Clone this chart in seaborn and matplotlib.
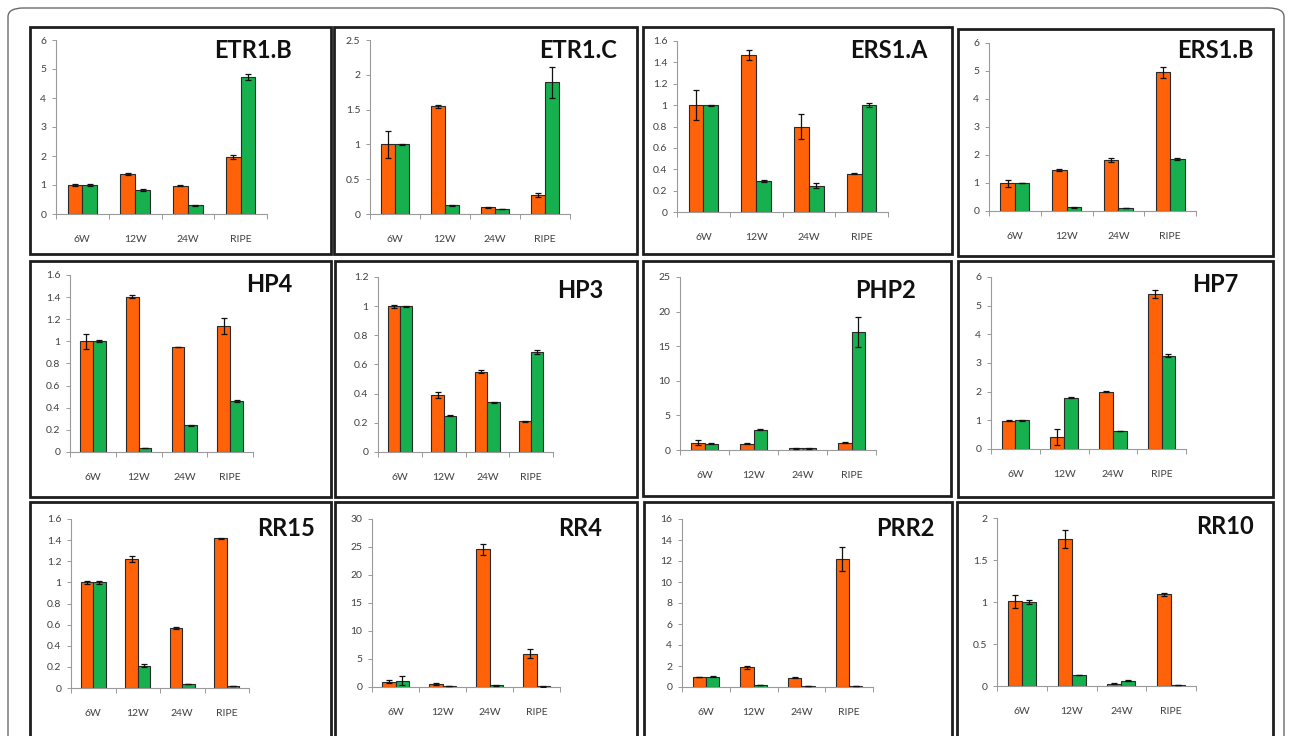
import matplotlib
matplotlib.use("Agg")
import matplotlib.pyplot as plt
from matplotlib.patches import Rectangle, FancyBboxPatch
from matplotlib.ticker import MultipleLocator, FuncFormatter, FixedLocator
import seaborn as sns
import pandas as pd

# ---------------- data ----------------
stages = ["6W", "12W", "24W", "RIPE"]
series_names = ["orange", "green"]

etr1b_orange = [1.00, 1.38, 0.97, 1.98]
etr1b_orange_err = [0.05, 0.02, 0.02, 0.07]
etr1b_green = [1.00, 0.82, 0.30, 4.72]
etr1b_green_err = [0.05, 0.03, 0.01, 0.10]

etr1c_orange = [1.00, 1.55, 0.096, 0.27]
etr1c_orange_err = [0.19, 0.02, 0.005, 0.03]
etr1c_green = [1.00, 0.125, 0.07, 1.89]
etr1c_green_err = [0.005, 0.005, 0.005, 0.22]

ers1a_orange = [1.00, 1.47, 0.80, 0.36]
ers1a_orange_err = [0.14, 0.05, 0.12, 0.005]
ers1a_green = [1.00, 0.29, 0.247, 1.00]
ers1a_green_err = [0.005, 0.01, 0.02, 0.02]

ers1b_orange = [0.99, 1.46, 1.82, 4.96]
ers1b_orange_err = [0.13, 0.04, 0.06, 0.20]
ers1b_green = [1.00, 0.13, 0.10, 1.85]
ers1b_green_err = [0.01, 0.01, 0.01, 0.03]

hp4_orange = [1.00, 1.405, 0.95, 1.14]
hp4_orange_err = [0.065, 0.015, 0.003, 0.07]
hp4_green = [1.00, 0.036, 0.24, 0.46]
hp4_green_err = [0.01, 0.003, 0.003, 0.01]

hp3_orange = [1.00, 0.39, 0.55, 0.21]
hp3_orange_err = [0.01, 0.02, 0.01, 0.003]
hp3_green = [1.00, 0.25, 0.34, 0.687]
hp3_green_err = [0.003, 0.003, 0.003, 0.015]

php2_orange = [1.06, 0.92, 0.24, 1.06]
php2_orange_err = [0.40, 0.05, 0.05, 0.10]
php2_green = [0.92, 2.94, 0.24, 17.04]
php2_green_err = [0.03, 0.03, 0.10, 2.20]

hp7_orange = [0.99, 0.43, 2.00, 5.41]
hp7_orange_err = [0.02, 0.28, 0.02, 0.15]
hp7_green = [1.00, 1.79, 0.63, 3.26]
hp7_green_err = [0.02, 0.01, 0.01, 0.06]

rr15_orange = [1.00, 1.22, 0.57, 1.416]
rr15_orange_err = [0.015, 0.025, 0.01, 0.003]
rr15_green = [1.00, 0.21, 0.04, 0.02]
rr15_green_err = [0.015, 0.015, 0.002, 0.002]

rr4_orange = [0.95, 0.55, 24.57, 5.96]
rr4_orange_err = [0.30, 0.20, 1.05, 0.75]
rr4_green = [1.13, 0.15, 0.30, 0.10]
rr4_green_err = [0.85, 0.02, 0.05, 0.02]

prr2_orange = [0.95, 1.87, 0.89, 12.22]
prr2_orange_err = [0.02, 0.15, 0.05, 1.15]
prr2_green = [0.98, 0.19, 0.08, 0.08]
prr2_green_err = [0.05, 0.02, 0.01, 0.01]

rr10_orange = [1.006, 1.75, 0.028, 1.09]
rr10_orange_err = [0.075, 0.11, 0.005, 0.015]
rr10_green = [1.00, 0.13, 0.064, 0.008]
rr10_green_err = [0.02, 0.003, 0.003, 0.002]

genes = ["ETR1.B", "ETR1.C", "ERS1.A", "ERS1.B",
         "HP4", "HP3", "PHP2", "HP7",
         "RR15", "RR4", "PRR2", "RR10"]
y_max = [6, 2.5, 1.6, 6, 1.6, 1.2, 25, 6, 1.6, 30, 16, 2]
y_step = [1, 0.5, 0.2, 1, 0.2, 0.2, 5, 1, 0.2, 5, 2, 0.5]

panel_values = [
    (etr1b_orange, etr1b_orange_err, etr1b_green, etr1b_green_err),
    (etr1c_orange, etr1c_orange_err, etr1c_green, etr1c_green_err),
    (ers1a_orange, ers1a_orange_err, ers1a_green, ers1a_green_err),
    (ers1b_orange, ers1b_orange_err, ers1b_green, ers1b_green_err),
    (hp4_orange, hp4_orange_err, hp4_green, hp4_green_err),
    (hp3_orange, hp3_orange_err, hp3_green, hp3_green_err),
    (php2_orange, php2_orange_err, php2_green, php2_green_err),
    (hp7_orange, hp7_orange_err, hp7_green, hp7_green_err),
    (rr15_orange, rr15_orange_err, rr15_green, rr15_green_err),
    (rr4_orange, rr4_orange_err, rr4_green, rr4_green_err),
    (prr2_orange, prr2_orange_err, prr2_green, prr2_green_err),
    (rr10_orange, rr10_orange_err, rr10_green, rr10_green_err),
]

# ---------------- layout (pixels, top-left origin) ----------------
W, H = 1290, 736
axes_px = [
    (56, 267, 40, 214), (370, 570, 40, 214), (677, 888, 41, 212), (989, 1196, 43, 211),
    (70, 253, 275, 452), (378, 553, 277, 452), (680, 876, 277, 450), (991, 1186, 277, 449),
    (71, 249, 519, 688), (372, 560, 519, 687), (682, 873, 519, 687), (997, 1196, 518, 686),
]
boxes_px = [
    (30, 27, 331, 254), (334, 27, 637, 254), (643, 27, 952, 254), (958, 29, 1273, 256),
    (30, 261, 331, 497), (335, 261, 637, 497), (643, 261, 951, 496), (958, 261, 1273, 497),
    (30, 502, 331, 745), (335, 502, 637, 745), (644, 502, 952, 745), (957, 502, 1273, 745),
]
title_px = [
    (292, 50), (617, 51), (927, 51), (1254, 51),
    (292, 285), (603, 290), (916, 290), (1238, 284),
    (315, 529), (602, 528), (935, 528), (1254, 527),
]

ORANGE = "#FF6208"
GREEN = "#16B04E"
EDGE = "#2a2a2a"
AXIS_C = "#9a9a9a"
TEXT_C = "#404040"

sns.set_style("white")
plt.rcParams["font.family"] = ["Lato", "DejaVu Sans"]

fig = plt.figure(figsize=(W / 100, H / 100), dpi=100)
fig.patch.set_facecolor("white")

# outer rounded frame
fig.patches.append(FancyBboxPatch((8 / W, 1 - 760 / H), (1284 - 8) / W, (760 - 8) / H,
                                  boxstyle="round,pad=0,rounding_size=0.012",
                                  transform=fig.transFigure, fill=False,
                                  edgecolor="#6a6a6a", linewidth=1.0, zorder=0))

for i, gene in enumerate(genes):
    bx0, by0, bx1, by1 = boxes_px[i]
    fig.patches.append(Rectangle((bx0 / W, 1 - by1 / H), (bx1 - bx0) / W, (by1 - by0) / H,
                                 transform=fig.transFigure, fill=False,
                                 edgecolor="#1e1e1e", linewidth=2.0, zorder=1))

    l, r, t, b = axes_px[i]
    ax = fig.add_axes([l / W, 1 - b / H, (r - l) / W, (b - t) / H])
    o, oe, g, ge = panel_values[i]
    df = pd.DataFrame({
        "stage": stages * 2,
        "series": [series_names[0]] * 4 + [series_names[1]] * 4,
        "value": list(o) + list(g),
    })
    sns.barplot(data=df, x="stage", y="value", hue="series", order=stages,
                hue_order=series_names, palette=[ORANGE, GREEN], width=0.56,
                errorbar=None, edgecolor=EDGE, linewidth=0.8, ax=ax, legend=False,
                saturation=1)
    errs = [oe, ge]
    for cont, err in zip(ax.containers, errs):
        for patch, e in zip(cont.patches, err):
            xc = patch.get_x() + patch.get_width() / 2
            ax.errorbar(xc, patch.get_height(), yerr=e, color="#111111",
                        elinewidth=0.9, capsize=2.4, capthick=0.9, zorder=5)

    ax.set_xlim(-0.5, 3.5)
    ax.set_ylim(0, y_max[i])
    ax.yaxis.set_major_locator(MultipleLocator(y_step[i]))
    ax.yaxis.set_major_formatter(FuncFormatter(lambda v, p: f"{v:g}"))
    ax.set_xlabel("")
    ax.set_ylabel("")
    ax.set_facecolor("none")
    for s in ["top", "right"]:
        ax.spines[s].set_visible(False)
    for s in ["left", "bottom"]:
        ax.spines[s].set_color(AXIS_C)
        ax.spines[s].set_linewidth(0.8)
    ax.tick_params(axis="y", length=3, width=0.7, color=AXIS_C, labelsize=7.5,
                   labelcolor=TEXT_C, pad=4, left=True)
    ax.tick_params(axis="x", which="major", length=0, labelsize=7.5,
                   labelcolor=TEXT_C, pad=15)
    ax.xaxis.set_minor_locator(FixedLocator([-0.5, 0.5, 1.5, 2.5, 3.5]))
    ax.tick_params(axis="x", which="minor", length=3.5, width=0.7, color=AXIS_C,
                   bottom=True)

    tx, ty = title_px[i]
    fig.text(tx / W, 1 - ty / H, gene, ha="right", va="center",
             fontsize=17, fontweight="bold", color="#111111")

fig.savefig("out.png", dpi=100, facecolor="white")
